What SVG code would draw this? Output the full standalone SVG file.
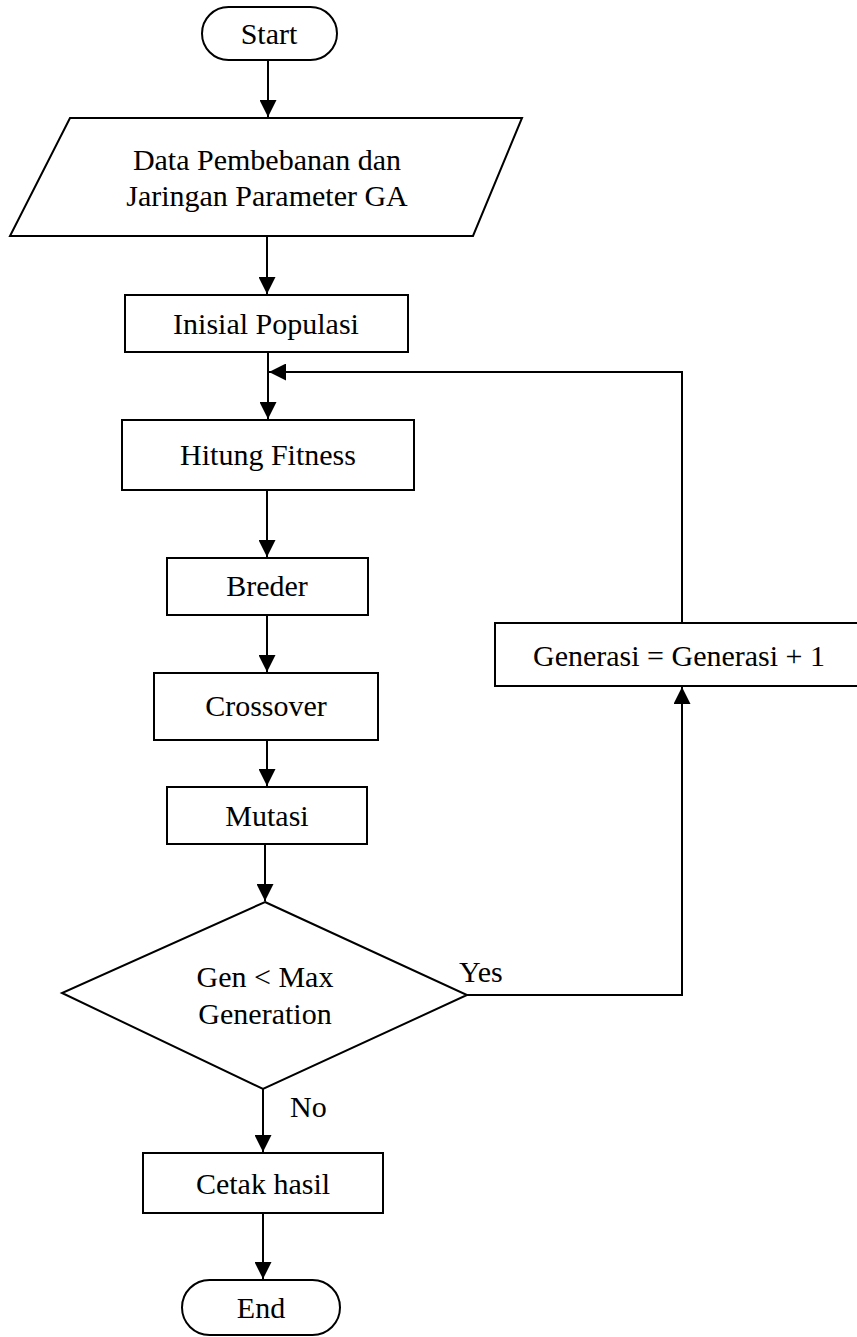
<svg xmlns="http://www.w3.org/2000/svg" width="857" height="1337" viewBox="0 0 857 1337">
<defs>
<marker id="ah" markerWidth="17" markerHeight="17" refX="17" refY="8.5" orient="auto" markerUnits="userSpaceOnUse">
<path d="M0,0 L17,8.5 L0,17 Z" fill="#000"/>
</marker>
<style>
.s{fill:#fff;stroke:#000;stroke-width:2}
.t{font-family:"Liberation Serif","Times New Roman",serif;font-size:30px;fill:#000;text-anchor:middle}
.l{font-family:"Liberation Serif","Times New Roman",serif;font-size:30px;fill:#000}
.c{fill:none;stroke:#000;stroke-width:2}
</style>
</defs>
<rect width="857" height="1337" fill="#fff"/>
<g id="connectors">
<path class="c" d="M268,60 V117" marker-end="url(#ah)"/>
<path class="c" d="M267,236 V294" marker-end="url(#ah)"/>
<path class="c" d="M268,352 V419" marker-end="url(#ah)"/>
<path class="c" d="M682,623 V372 H269" marker-end="url(#ah)"/>
<path class="c" d="M267,490 V557" marker-end="url(#ah)"/>
<path class="c" d="M267,615 V672" marker-end="url(#ah)"/>
<path class="c" d="M267,740 V786" marker-end="url(#ah)"/>
<path class="c" d="M265,844 V901" marker-end="url(#ah)"/>
<path class="c" d="M467,995 H682 V687" marker-end="url(#ah)"/>
<path class="c" d="M263,1089 V1152" marker-end="url(#ah)"/>
<path class="c" d="M263,1213 V1279" marker-end="url(#ah)"/>
<text class="l" x="459" y="982">Yes</text>
<text class="l" x="290" y="1117">No</text>
</g>
<g id="start">
<rect class="s" x="202" y="7" width="135" height="53" rx="26.5"/>
<text class="t" x="269" y="44">Start</text>
</g>
<g id="data">
<polygon class="s" points="70,118 522,118 473,236 10,236"/>
<text class="t" x="267" y="170">Data Pembebanan dan</text>
<text class="t" x="267" y="206">Jaringan Parameter GA</text>
</g>
<g id="inisial">
<rect class="s" x="125" y="295" width="283" height="57"/>
<text class="t" x="266" y="334">Inisial Populasi</text>
</g>
<g id="hitung">
<rect class="s" x="122" y="420" width="292" height="70"/>
<text class="t" x="268" y="465">Hitung Fitness</text>
</g>
<g id="breder">
<rect class="s" x="167" y="558" width="201" height="57"/>
<text class="t" x="267" y="596">Breder</text>
</g>
<g id="crossover">
<rect class="s" x="154" y="673" width="224" height="67"/>
<text class="t" x="266" y="716">Crossover</text>
</g>
<g id="mutasi">
<rect class="s" x="167" y="787" width="200" height="57"/>
<text class="t" x="267" y="826">Mutasi</text>
</g>
<g id="decision">
<polygon class="s" points="265,902 467,995 263,1089 62,993"/>
<text class="t" x="265" y="987">Gen &lt; Max</text>
<text class="t" x="265" y="1024">Generation</text>
</g>
<g id="generasi">
<rect class="s" x="495" y="623" width="366" height="63"/>
<text class="t" x="679" y="666">Generasi = Generasi + 1</text>
</g>
<g id="cetak">
<rect class="s" x="143" y="1153" width="240" height="60"/>
<text class="t" x="263" y="1194">Cetak hasil</text>
</g>
<g id="end">
<rect class="s" x="182" y="1280" width="158" height="55" rx="27.5"/>
<text class="t" x="261" y="1318">End</text>
</g>
</svg>
